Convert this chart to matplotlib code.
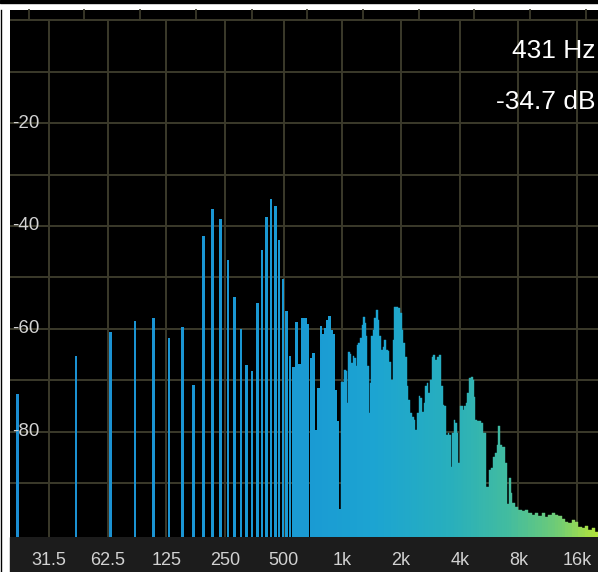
import numpy as np
import matplotlib
matplotlib.use('Agg')
import matplotlib.pyplot as plt
from matplotlib.colors import LinearSegmentedColormap, Normalize
from matplotlib.patches import Rectangle
from matplotlib.lines import Line2D
from matplotlib.ticker import NullLocator

plt.rcParams['font.family'] = ['Liberation Sans', 'DejaVu Sans']

# FFT settings of the analyser (bin k sits at k * fs / n)
SAMPLE_RATE = 44100
FFT_SIZE = 2048

# dB level of FFT bins 1..45 (the part where single bars are visible)
bin_db = [-72.6, -65.3, -60.6, -58.5, -57.9, -61.7, -59.6, -71.0, -41.9, -36.7,
          -38.6, -46.6, -53.9, -60.0, -67.0, -68.3, -54.9, -44.6, -38.2, -34.7,
          -36.2, -42.8, -50.3, -56.6, -65.2, -67.5, -58.6, -66.8, -58.0, -58.0,
          -59.1, -65.6, -64.8, -79.7, -71.6, -59.4, -61.0, -59.9, -58.3, -57.6,
          -60.2, -61.0, -72.0, -78.0, -95.0]

dense_hz = [990, 1011, 1032, 1053, 1065, 1082, 1104, 1117, 1138, 1161,
            1175, 1193, 1217, 1242, 1272, 1291, 1311, 1333, 1354, 1375,
            1398, 1420, 1441, 1471, 1501, 1529, 1560, 1592, 1622, 1655,
            1689, 1721, 1756, 1791, 1826, 1863, 1914, 1960, 2000, 2030,
            2072, 2121, 2164, 2205, 2250, 2296, 2340, 2387, 2436, 2482,
            2532, 2584, 2633, 2687, 2728, 2783, 2840, 2894, 2963, 3023,
            3085, 3144, 3234, 3296, 3363, 3431, 3496, 3567, 3610, 3683,
            3753, 3829, 3889, 3967, 4015, 4096, 4174, 4259, 4345, 4428,
            4481, 4610, 4698, 4754, 4850, 4948, 5085, 5188, 5287, 5394,
            5569, 5675, 5839, 6000, 6122, 6238, 6388, 6517, 6696, 6889,
            7054, 7247, 7394, 7535, 7844, 8156, 8480, 8828, 9179, 9544,
            9935, 10330, 10741, 11181, 11626, 12088, 12584, 13084, 13604, 14161,
            14725, 15310, 15938, 16571, 17230, 17936, 18649, 19390, 20185]
dense_db = [-70.3, -70.3, -68.0, -68.3, -74.5, -64.6, -65.0, -66.7, -65.3, -65.7,
            -67.3, -63.1, -62.8, -61.8, -59.2, -57.8, -58.9, -61.5, -67.3, -76.4,
            -70.6, -61.5, -60.2, -57.9, -56.3, -58.3, -61.5, -64.1, -63.5, -62.2,
            -64.1, -64.4, -66.4, -70.0, -62.2, -55.7, -55.7, -56.0, -57.0, -60.2,
            -62.8, -65.4, -71.2, -73.8, -76.4, -77.1, -77.7, -79.7, -76.4, -73.1,
            -73.5, -76.1, -74.5, -71.2, -70.6, -72.5, -70.0, -65.4, -65.1, -66.1,
            -65.4, -65.1, -71.2, -74.8, -75.1, -80.6, -80.3, -80.6, -86.8, -80.3,
            -77.7, -78.4, -80.3, -86.2, -75.1, -75.1, -75.8, -75.1, -74.5, -72.5,
            -69.6, -69.4, -69.9, -73.2, -77.7, -78.0, -78.0, -78.4, -80.3, -80.3,
            -90.7, -87.5, -87.1, -84.9, -84.2, -82.6, -79.0, -82.6, -82.9, -86.2,
            -94.0, -89.1, -92.0, -93.9, -94.6, -95.2, -95.5, -95.3, -95.9, -96.2,
            -95.9, -96.5, -95.9, -96.6, -96.3, -95.9, -96.2, -96.5, -97.0, -97.5,
            -97.8, -97.2, -97.6, -98.5, -98.8, -98.4, -99.1, -98.8, -99.6]

octave_hz = [31.25, 62.5, 125, 250, 500, 1000, 2000, 4000, 8000, 16000]
octave_labels = ['31.5', '62.5', '125', '250', '500', '1k', '2k', '4k', '8k', '16k']
db_levels = [0, -10, -20, -30, -40, -50, -60, -70, -80, -90]
db_labels = [-20, -40, -60, -80]

F_MIN, F_MAX = 19.7, 20500
DB_MIN, DB_MAX = -100.5, 2.0
OCT_PX = 58.67           # pixels per octave in the screenshot
BAR_OCT = 2.6 / OCT_PX   # width of a single bin bar, in octaves

grid_col = '#3b3a2b'
spec_cmap = LinearSegmentedColormap.from_list('spec', [
    (0.0, '#1b8ed2'), (0.5, '#1a9ad3'), (0.62, '#1ca4d2'), (0.75, '#28afbd'),
    (0.85, '#43bc9f'), (0.93, '#6dcb78'), (1.0, '#b3e33c')])
cnorm = Normalize(np.log10(F_MIN), np.log10(F_MAX))

fig = plt.figure(figsize=(5.98, 5.72), dpi=100, facecolor='white')
W, H = 598.0, 572.0
ax = fig.add_axes([10 / W, 35 / H, 588 / W, 527 / H])
ax.set_facecolor('black')
ax.set_xscale('log')
ax.set_xlim(F_MIN, F_MAX)
ax.set_ylim(DB_MIN, DB_MAX)
for s in ax.spines.values():
    s.set_visible(False)

# bottom label strip + top border bits (behind the axes so tick labels show)
fig.patches.append(Rectangle((10 / W, 0), 588 / W, 35 / H, transform=fig.transFigure,
                             color='#1c1c1c', zorder=-1))
fig.patches.append(Rectangle((0, 569 / H), 1, 3 / H, transform=fig.transFigure,
                             color='black', zorder=-1))
fig.add_artist(Line2D([0.5 / W, 0.5 / W], [0, 562 / H], color='black', lw=1))
for px in [29, 84, 140, 196, 252, 307, 363, 419, 474, 530, 586]:
    fig.add_artist(Line2D([px / W, px / W], [552 / H, 562 / H], color=grid_col, lw=1.3))

# grid
ax.hlines(db_levels, F_MIN, F_MAX, color=grid_col, lw=1.4, zorder=1)
ax.vlines(octave_hz, DB_MIN, 0, color=grid_col, lw=1.4, zorder=1)

# single FFT bins
bin_hz = np.arange(1, len(bin_db) + 1) * SAMPLE_RATE / FFT_SIZE
left = bin_hz * 2 ** (-BAR_OCT / 2)
right = bin_hz * 2 ** (BAR_OCT / 2)
ax.bar(left, np.array(bin_db) - DB_MIN, width=right - left, bottom=DB_MIN, align='edge',
       color=spec_cmap(cnorm(np.log10(bin_hz))), lw=0, zorder=2)

# merged high-frequency part
dh = np.array(dense_hz, dtype=float)
edges = np.sqrt(dh[:-1] * dh[1:])
edges = np.concatenate([[dh[0] / np.sqrt(dh[1] / dh[0])], edges, [F_MAX]])
ax.bar(edges[:-1], np.array(dense_db) - DB_MIN, width=np.diff(edges), bottom=DB_MIN,
       align='edge', color=spec_cmap(cnorm(np.log10(dh))),
       edgecolor=spec_cmap(cnorm(np.log10(dh))), lw=0.3, zorder=2)

# axis labels
ax.xaxis.set_minor_locator(NullLocator())
ax.set_xticks(octave_hz)
ax.set_xticklabels(octave_labels)
ax.tick_params(axis='x', length=0, pad=11, labelsize=13, labelcolor='#d2d2d2')
ax.set_yticks([])
for lv in db_labels:
    ax.annotate(str(lv), xy=(0, lv), xycoords=('axes fraction', 'data'),
                xytext=(1.5, 0), textcoords='offset points', va='center', ha='left',
                fontsize=13.5, color='#d2d2d2', zorder=5)

# peak readout
k_peak = int(np.argmax(bin_db))
ax.text(0.995, 0.922, f'{bin_hz[k_peak]:.0f} Hz', transform=ax.transAxes,
        ha='right', va='center', fontsize=19, color='white', zorder=5)
ax.text(0.995, 0.826, f'{bin_db[k_peak]:.1f} dB', transform=ax.transAxes,
        ha='right', va='center', fontsize=19, color='white', zorder=5)

fig.savefig('out.png', dpi=100, facecolor='white')
